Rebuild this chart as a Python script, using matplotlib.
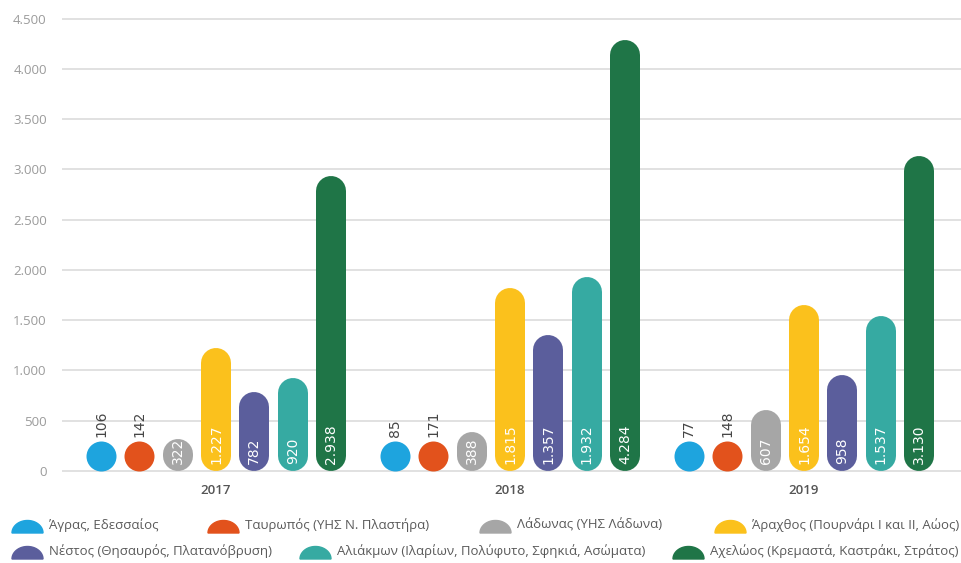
import numpy as np
import matplotlib
matplotlib.use('Agg')
import matplotlib.pyplot as plt
from matplotlib.patches import Polygon

years = ['2017', '2018', '2019']
stations = [
    'Άγρας, Εδεσσαίος',
    'Ταυρωπός (ΥΗΣ Ν. Πλαστήρα)',
    'Λάδωνας (ΥΗΣ Λάδωνα)',
    'Άραχθος (Πουρνάρι Ι και ΙΙ, Αώος)',
    'Νέστος (Θησαυρός, Πλατανόβρυση)',
    'Αλιάκμων (Ιλαρίων, Πολύφυτο, Σφηκιά, Ασώματα)',
    'Αχελώος (Κρεμαστά, Καστράκι, Στράτος)',
]
agras = [106, 85, 77]
tavropos = [142, 171, 148]
ladonas = [322, 388, 607]
arachthos = [1227, 1815, 1654]
nestos = [782, 1357, 958]
aliakmon = [920, 1932, 1537]
acheloos = [2938, 4284, 3130]
series = [agras, tavropos, ladonas, arachthos, nestos, aliakmon, acheloos]
colors = ['#1ea4de', '#e2521c', '#a6a6a6', '#fbc11c', '#5b5e9c', '#36aaa2', '#1f7547']

W, H = 961, 563
fig = plt.figure(figsize=(W / 100, H / 100), dpi=100)
fig.patch.set_facecolor('white')

ax = fig.add_axes([62 / W, (H - 474) / H, (W - 62) / W, (474 - 15.5) / H])
ax.set_xlim(-0.524, 2.534)
ax.set_ylim(-30, 4530)
for s in ax.spines.values():
    s.set_visible(False)

ax.set_yticks(np.arange(0, 4501, 500))
ax.set_yticklabels([f'{t:,}'.replace(',', '.') for t in range(0, 4501, 500)],
                   color='#9b9b9b', fontsize=9.5, family='Open Sans')
ax.yaxis.grid(True, color='#dedede', lw=1.3)
ax.set_axisbelow(True)
ax.tick_params(axis='y', length=0, pad=11)
ax.set_xticks(range(len(years)))
ax.set_xticklabels(years, color='#555555', fontsize=9.5, family='Open Sans', weight='semibold')
ax.tick_params(axis='x', length=0, pad=7)

# pixel -> data conversion, used for the rounded pill caps
fig.canvas.draw()
px_per_unit = ax.transData.transform((0, 1))[1] - ax.transData.transform((0, 0))[1]
bar_px = 30
r = (bar_px / 2) / px_per_unit
offset = 38.3 / 294

lab_font = ['Liberation Sans Narrow', 'DejaVu Sans']
for i, (vals, c) in enumerate(zip(series, colors)):
    for g, v in enumerate(vals):
        x = g + (i - 3) * offset
        txt = f'{v:,}'.replace(',', '.')
        if v > 2 * r:
            ax.plot([x, x], [r, v - r], color=c, lw=bar_px * 0.72,
                    solid_capstyle='round', clip_on=False, zorder=3)
            ax.text(x, 7 / px_per_unit, txt, rotation=90, ha='center', va='bottom',
                    color='white', fontsize=10, family=lab_font, zorder=4)
        else:
            # too small for a pill: a single dot
            ax.scatter([x], [r], s=(bar_px * 0.72) ** 2, color=c, lw=0,
                       clip_on=False, zorder=3)
            ax.text(x, 2 * r + 4 / px_per_unit, txt, rotation=90, ha='center',
                    va='bottom', color='#454545', fontsize=10, family=lab_font, zorder=4)

# legend, two rows of half-disc markers
lax = fig.add_axes([0, 0, 1, 1])
lax.set_xlim(0, W)
lax.set_ylim(H, 0)
lax.axis('off')
rows = [(533, [12, 208, 480, 715]), (559, [12, 300, 673])]
k = 0
for base, starts in rows:
    for x0 in starts:
        t = np.linspace(np.pi, 2 * np.pi, 40)
        pts = np.column_stack([x0 + 15.5 + 15.5 * np.cos(t), base + 12.5 * np.sin(t)])
        lax.add_patch(Polygon(pts, closed=True, color=colors[k]))
        lax.text(x0 + 37, base - 8, stations[k], va='center', ha='left',
                 color='#5a5a5a', fontsize=9.5, family='Open Sans')
        k += 1

fig.savefig('out.png', dpi=100)
